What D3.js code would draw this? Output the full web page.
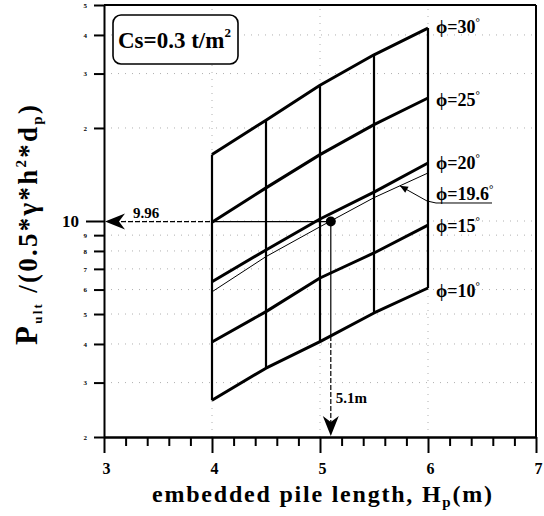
<!DOCTYPE html>
<html>
<head>
<meta charset="utf-8">
<script src="https://cdn.jsdelivr.net/npm/d3@7"></script>
<style>
  body { margin: 0; background: #fff; }
  svg { display: block; }
  text { font-family: "Liberation Serif", "Times New Roman", serif; font-weight: bold; fill: #000; }
</style>
</head>
<body>
<svg id="chart" width="544" height="516"></svg>
<script>
// Embedded pile length (m) at which each curve was computed
const pileLength = [4, 4.5, 5, 5.5, 6];

// Normalised ultimate load P_ult / (0.5*γ*h²*d_p) for each friction angle
const phi10  = [2.63, 3.34, 4.07, 5.04, 6.07];
const phi15  = [4.06, 5.09, 6.54, 7.88, 9.7];
const phi196 = [5.9, 7.67, 9.58, 11.9, 14.3];
const phi20  = [6.36, 8.06, 10.15, 12.4, 15.4];
const phi25  = [9.9, 12.8, 16.4, 20.5, 25.0];
const phi30  = [16.4, 21.2, 27.5, 34.5, 42.1];

// Friction angle labels (degrees)
const angles = ["10", "15", "19.6", "20", "25", "30"];

// Axis ticks
const xMajorTicks = [3, 4, 5, 6, 7];
const xMinorTicks = [3.2, 3.4, 3.6, 3.8, 4.2, 4.4, 4.6, 4.8, 5.2, 5.4, 5.6, 5.8, 6.2, 6.4, 6.6, 6.8];
const yTickValues = [2, 3, 4, 5, 6, 7, 8, 9, 10, 20, 30, 40, 50];
const yTickLabels = ["2", "3", "4", "5", "6", "7", "8", "9", "10", "2", "3", "4", "5"];

// Design read-off point
const readLength = 5.1;
const readLoad = 9.96;
const cohesion = "0.3";

const svg = d3.select("#chart");
const x = d3.scaleLinear().domain([3, 7]).range([104, 536]);
const y = d3.scaleLog().domain([2, 50]).range([437, 5]);

// Faint dotted grid
const grid = svg.append("g").attr("stroke", "#b0b0b0").attr("stroke-width", 1)
  .attr("stroke-dasharray", "1,6").attr("fill", "none");
yTickValues.filter(v => v !== 2 && v !== 50).forEach(v => {
  grid.append("line").attr("x1", x(3)).attr("x2", x(7)).attr("y1", y(v)).attr("y2", y(v));
});
[4, 5, 6].forEach(v => {
  grid.append("line").attr("x1", x(v)).attr("x2", x(v)).attr("y1", y(2)).attr("y2", y(50));
});

// Frame top and right
svg.append("line").attr("x1", x(3)).attr("x2", x(7)).attr("y1", y(50)).attr("y2", y(50))
  .attr("stroke", "#000").attr("stroke-width", 2);
svg.append("line").attr("x1", x(7)).attr("x2", x(7)).attr("y1", y(50)).attr("y2", y(2))
  .attr("stroke", "#000").attr("stroke-width", 2);

// X axis: minor then major ticks
const xMinor = svg.append("g").attr("transform", `translate(0,${y(2)})`)
  .call(d3.axisBottom(x).tickValues(xMinorTicks).tickSize(9).tickSizeOuter(0).tickFormat(""));
const xMajor = svg.append("g").attr("transform", `translate(0,${y(2)})`)
  .call(d3.axisBottom(x).tickValues(xMajorTicks).tickSize(16).tickSizeOuter(0).tickFormat(d3.format("d")));
[xMinor, xMajor].forEach(g => {
  g.select(".domain").attr("stroke-width", 2);
  g.selectAll(".tick line").attr("stroke-width", 2);
});
xMajor.selectAll(".tick text")
  .attr("y", 37).attr("dy", 0).attr("dx", 2)
  .style("font-size", "16px").style("font-family", "Liberation Serif").style("font-weight", "bold");

// Y axis (log)
const yAxis = svg.append("g").attr("transform", `translate(${x(3)},0)`)
  .call(d3.axisLeft(y).tickValues(yTickValues).tickSize(10).tickSizeOuter(0)
    .tickFormat((d, i) => yTickLabels[i]));
yAxis.select(".domain").attr("stroke-width", 2);
yAxis.selectAll(".tick line").attr("stroke-width", 2)
  .attr("x2", d => d === 10 ? -18 : -10);
yAxis.selectAll(".tick text")
  .attr("x", d => d === 10 ? -25 : -17)
  .style("font-family", "Liberation Serif").style("font-weight", "bold")
  .style("font-size", d => d === 10 ? "17px" : "7px");

// Curves
const line = d3.line().x((d, i) => x(pileLength[i])).y(d => y(d));
const series = [
  { v: phi10, w: 3 }, { v: phi15, w: 3 }, { v: phi196, w: 1 },
  { v: phi20, w: 3 }, { v: phi25, w: 3 }, { v: phi30, w: 3 }
];
series.forEach(s => {
  svg.append("path").datum(s.v).attr("d", line)
    .attr("fill", "none").attr("stroke", "#000").attr("stroke-width", s.w)
    .attr("stroke-linejoin", "round");
});

// Vertical connectors at each computed pile length
pileLength.forEach((p, i) => {
  svg.append("line").attr("x1", x(p)).attr("x2", x(p))
    .attr("y1", y(phi10[i])).attr("y2", y(phi30[i]))
    .attr("stroke", "#000").attr("stroke-width", 2.2);
});

// Angle labels at the right end of each curve
const labelOffsets = { "10": 9, "15": 7, "20": 6, "25": 8, "30": 5 };
series.forEach((s, k) => {
  const a = angles[k];
  if (a === "19.6") return;
  const t = svg.append("text").attr("x", x(6) + 8).attr("y", y(s.v[4]) + labelOffsets[a])
    .style("font-size", "18px");
  t.append("tspan").text("ϕ=" + a);
  t.append("tspan").attr("dy", -7).style("font-size", "11px").text("°");
});

// φ=19.6° label with underline and leader arrow
const lx = x(6) + 8, ly = y(phi196[4]) + 27;
const t196 = svg.append("text").attr("x", lx).attr("y", ly).style("font-size", "18px");
t196.append("tspan").text("ϕ=19.6");
t196.append("tspan").attr("dy", -7).style("font-size", "11px").text("°");
const tipX = x(5.74);
const tipY = y(phi196[3]) + (y(phi196[4]) - y(phi196[3])) * (5.74 - 5.5) / 0.5;
svg.append("polyline")
  .attr("points", `${lx + 56},${ly + 3} ${lx},${ly + 3} ${x(6) - 1},${ly + 1} ${tipX},${tipY}`)
  .attr("fill", "none").attr("stroke", "#000").attr("stroke-width", 1);
const ang = Math.atan2(ly + 1 - tipY, x(6) - 1 - tipX);
const ah = 8, aw = 3.5;
svg.append("path")
  .attr("d", `M${tipX},${tipY}
    L${tipX + ah * Math.cos(ang) - aw * Math.sin(ang)},${tipY + ah * Math.sin(ang) + aw * Math.cos(ang)}
    L${tipX + ah * Math.cos(ang) + aw * Math.sin(ang)},${tipY + ah * Math.sin(ang) - aw * Math.cos(ang)}Z`)
  .attr("fill", "#000");

// Read-off construction lines
const px = x(readLength), py = y(readLoad);
const i0 = 2, i1 = 3;
const crossY = y(phi10[i0]) + (y(phi10[i1]) - y(phi10[i0])) * (readLength - pileLength[i0]) / (pileLength[i1] - pileLength[i0]);
svg.append("line").attr("x1", x(4)).attr("x2", px).attr("y1", py).attr("y2", py)
  .attr("stroke", "#000").attr("stroke-width", 1.2);
svg.append("line").attr("x1", x(3) + 10).attr("x2", x(4)).attr("y1", py).attr("y2", py)
  .attr("stroke", "#000").attr("stroke-width", 1.2).attr("stroke-dasharray", "5,2");
svg.append("line").attr("x1", px).attr("x2", px).attr("y1", py).attr("y2", crossY)
  .attr("stroke", "#000").attr("stroke-width", 1.2);
svg.append("line").attr("x1", px).attr("x2", px).attr("y1", crossY).attr("y2", y(2) - 10)
  .attr("stroke", "#000").attr("stroke-width", 1.2).attr("stroke-dasharray", "5,2");
svg.append("circle").attr("cx", px).attr("cy", py).attr("r", 5).attr("fill", "#000");

// Arrowheads at the axes
const ax0 = x(3) + 1;
svg.append("path")
  .attr("d", `M${ax0},${py} L${ax0 + 20},${py - 8} L${ax0 + 14},${py} L${ax0 + 20},${py + 8}Z`)
  .attr("fill", "#000");
const ay0 = y(2) - 1;
svg.append("path")
  .attr("d", `M${px},${ay0} L${px - 8},${ay0 - 20} L${px},${ay0 - 14} L${px + 8},${ay0 - 20}Z`)
  .attr("fill", "#000");

svg.append("text").attr("x", 133).attr("y", py - 4).style("font-size", "15px").text(readLoad.toFixed(2));
svg.append("text").attr("x", px + 5).attr("y", 403).style("font-size", "15px").text(readLength + "m");

// Cohesion box
svg.append("rect").attr("x", 113).attr("y", 15).attr("width", 125).attr("height", 49)
  .attr("rx", 8).attr("fill", "#fff").attr("stroke", "#000").attr("stroke-width", 1.6);
const cs = svg.append("text").attr("x", 118).attr("y", 48).style("font-size", "23px");
cs.append("tspan").text(`Cs=${cohesion} t/m`);
cs.append("tspan").attr("dy", -11).style("font-size", "13px").text("2");

// Axis titles
const xt = svg.append("text").attr("x", 152).attr("y", 502).style("font-size", "24px")
  .attr("textLength", 340).attr("lengthAdjust", "spacing");
xt.append("tspan").text("embedded pile length, H");
xt.append("tspan").attr("dy", 5).style("font-size", "15px").text("p");
xt.append("tspan").attr("dy", -5).text("(m)");

const yt = svg.append("text").attr("transform", "translate(37,345) rotate(-90)")
  .attr("x", 0).attr("y", 0).style("font-size", "27px")
  .attr("textLength", 240).attr("lengthAdjust", "spacing");
yt.append("tspan").style("font-size", "31px").text("P");
yt.append("tspan").attr("dy", 5).style("font-size", "13px").text("ult");
yt.append("tspan").attr("dy", -5).text(" /(0.5*γ*h");
yt.append("tspan").attr("dy", -11).style("font-size", "15px").text("2");
yt.append("tspan").attr("dy", 11).text("*d");
yt.append("tspan").attr("dy", 5).style("font-size", "15px").text("p");
yt.append("tspan").attr("dy", -5).text(")");
</script>
</body>
</html>
